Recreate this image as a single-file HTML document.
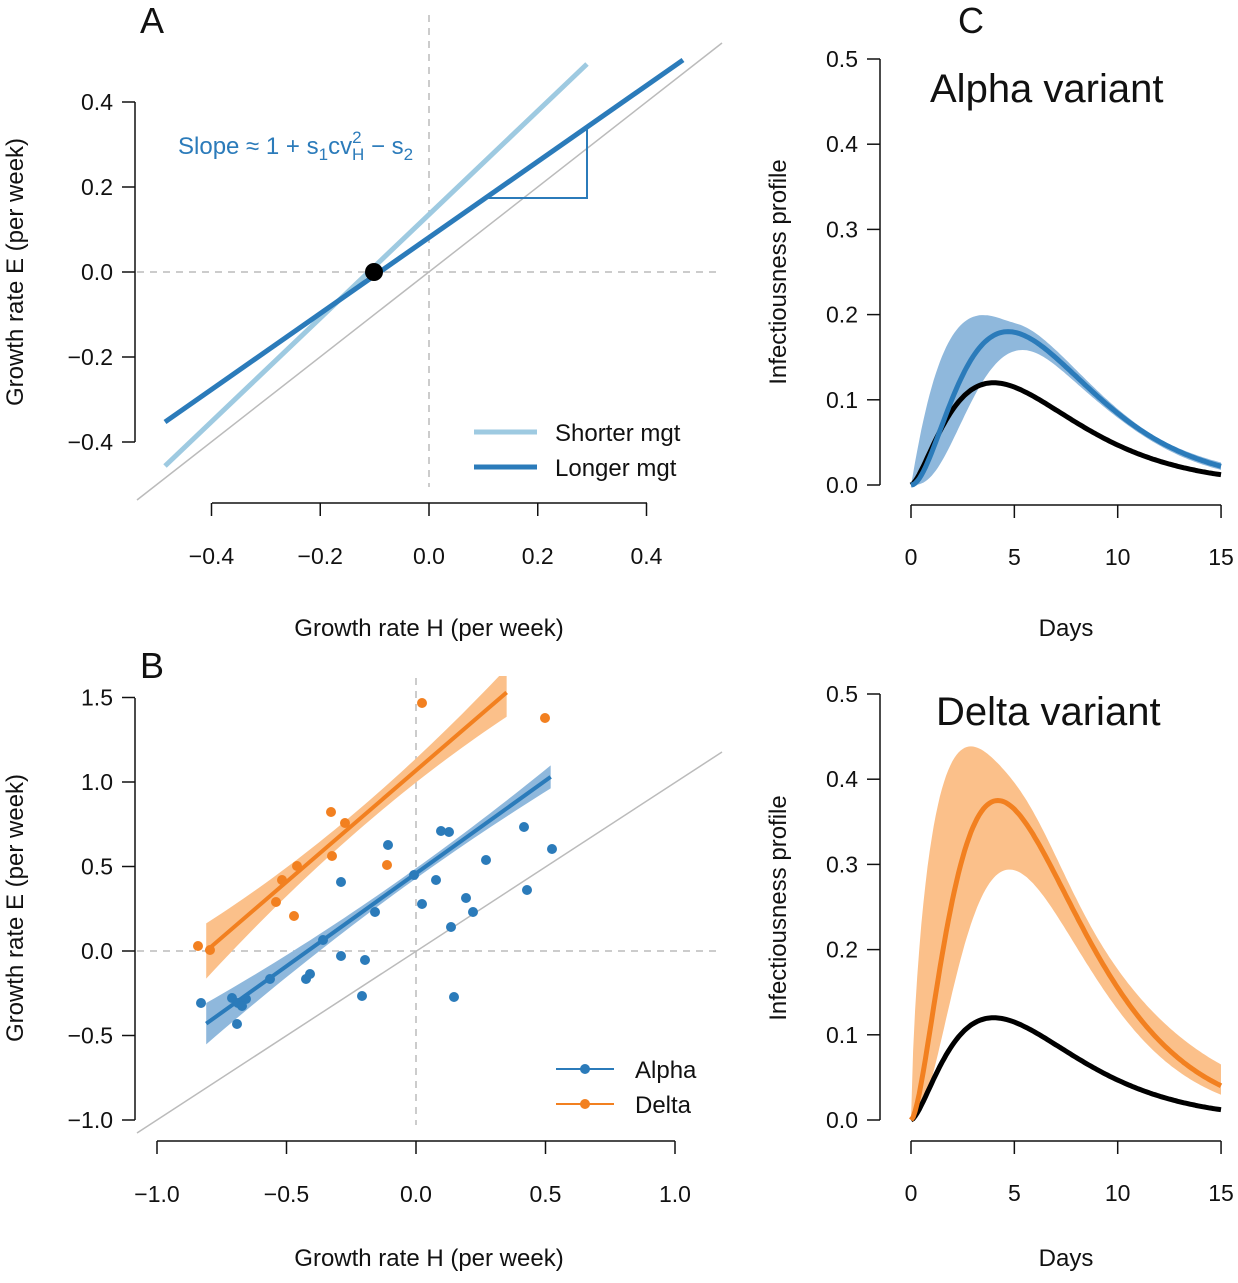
<!DOCTYPE html>
<html><head><meta charset="utf-8"><style>
html,body{margin:0;padding:0;background:#fff}
svg text{font-family:"Liberation Sans",Arial,sans-serif;fill:#111}
</style></head><body>
<svg id="s" width="1238" height="1278" viewBox="0 0 1238 1278" xmlns="http://www.w3.org/2000/svg">
<g id="g"></g>
<text x="140" y="33" font-size="36">A</text>
<text x="140" y="678" font-size="36">B</text>
<text x="958" y="33" font-size="36">C</text>
<text x="178" y="154" font-size="24" style="fill:#2b7bba">Slope ≈ 1 + s<tspan font-size="17" dy="6">1</tspan><tspan dy="-6">cv</tspan><tspan font-size="17" dy="-11">2</tspan><tspan font-size="17" dx="-9.5" dy="17">H</tspan><tspan dy="-6"> − s</tspan><tspan font-size="17" dy="6">2</tspan></text>
<text x="930" y="102" font-size="40">Alpha variant</text>
<text x="936" y="725" font-size="40">Delta variant</text>
<text x="429" y="636" font-size="24" text-anchor="middle">Growth rate H (per week)</text>
<text x="429" y="1266" font-size="24" text-anchor="middle">Growth rate H (per week)</text>
<text x="1066" y="636" font-size="24" text-anchor="middle">Days</text>
<text x="1066" y="1266" font-size="24" text-anchor="middle">Days</text>
<text transform="translate(23,272) rotate(-90)" font-size="24" text-anchor="middle">Growth rate E (per week)</text>
<text transform="translate(23,908) rotate(-90)" font-size="24" text-anchor="middle">Growth rate E (per week)</text>
<text transform="translate(786,272) rotate(-90)" font-size="24" text-anchor="middle">Infectiousness profile</text>
<text transform="translate(786,908) rotate(-90)" font-size="24" text-anchor="middle">Infectiousness profile</text>
<line x1="474" y1="432" x2="537" y2="432" stroke="#9ecae1" stroke-width="5"/>
<line x1="474" y1="467" x2="537" y2="467" stroke="#2b7bba" stroke-width="5"/>
<text x="555" y="441" font-size="24">Shorter mgt</text>
<text x="555" y="476" font-size="24">Longer mgt</text>
<line x1="556" y1="1069" x2="614" y2="1069" stroke="#2b7bba" stroke-width="2"/>
<circle cx="585" cy="1069" r="5" fill="#2b7bba"/>
<line x1="556" y1="1104" x2="614" y2="1104" stroke="#f28020" stroke-width="2"/>
<circle cx="585" cy="1104" r="5" fill="#f28020"/>
<text x="635" y="1078" font-size="24">Alpha</text>
<text x="635" y="1113" font-size="24">Delta</text>
</svg>
<script>
var g=document.getElementById('g'),NS='http://www.w3.org/2000/svg';
function el(t,a){var e=document.createElementNS(NS,t);for(var k in a)e.setAttribute(k,a[k]);g.appendChild(e);return e;}
function tx(x,y,s,anchor){var e=el('text',{x:x,y:y,'font-size':23,'text-anchor':anchor||'middle'});e.textContent=s;}
function L(x1,y1,x2,y2,c,w,d){var a={x1:x1,y1:y1,x2:x2,y2:y2,stroke:c,'stroke-width':w};if(d)a['stroke-dasharray']=d;el('line',a);}
var ax=function(v){return 429+v*543.75},ay=function(v){return 272-v*425};
L(429,15,429,487,'#bbb',1.5,'7,6');L(137,272,722,272,'#bbb',1.5,'7,6');
L(137,500,722,43,'#bbb',1.5);
L(165,466,587,64,'#9ecae1',5);L(165,422,683,60,'#2b7bba',5);
el('polyline',{points:'483,198 587,198 587,127',fill:'none',stroke:'#2b7bba','stroke-width':2});
el('circle',{cx:374,cy:272,r:9,fill:'#000'});
L(135,102,135,442,'#111',1.5);L(212,503,647,503,'#111',1.5);
[0.4,0.2,0,-0.2,-0.4].forEach(function(v){var y=ay(v);L(122,y,135,y,'#111',1.5);tx(113,y+8,(v<0?'−':'')+Math.abs(v).toFixed(1),'end');});
[-0.4,-0.2,0,0.2,0.4].forEach(function(v){var x=ax(v);L(x,503,x,516,'#111',1.5);tx(x,564,(v<0?'−':'')+Math.abs(v).toFixed(1));});
var bx=function(v){return 416+v*259},by=function(v){return 951-v*169};
L(416,665,416,1125,'#bbb',1.5,'7,6');L(137,951,722,951,'#bbb',1.5,'7,6');
L(137,1133,722,752,'#bbb',1.5);
function band(x0,x1,f,w,col){var up=[],dn=[];for(var i=0;i<=40;i++){var x=x0+(x1-x0)*i/40,m=f(x),ww=w(x);up.push(bx(x)+','+by(m+ww));dn.unshift(bx(x)+','+by(m-ww));}el('polygon',{points:up.concat(dn).join(' '),fill:col});}
var fb=function(x){return -0.43+(x+0.81)*(1.46/1.33)};
var fo=function(x){return 0+(x+0.81)*(1.53/1.16)};
band(-0.81,0.35,fo,function(x){var t=(x+0.2)/0.6;return 0.06+0.1*t*t;},'#fbc08a');
band(-0.81,0.52,fb,function(x){var t=(x-0.0)/0.8;return 0.03+0.09*t*t;},'#8fb8dc');
el('rect',{x:137,y:640,width:450,height:36,fill:'#fff'});
L(bx(-0.81),by(fo(-0.81)),bx(0.35),by(fo(0.35)),'#f28020',4);
L(bx(-0.81),by(fb(-0.81)),bx(0.52),by(fb(0.52)),'#2b7bba',4);
var blue=[[201,1003],[232,998],[238,1003],[237,1024],[246,999],[242,1006],[270,979],[306,979],[310,974],[323,940],[341,882],[341,956],[365,960],[362,996],[375,912],[388,845],[414,875],[422,904],[436,880],[441,831],[449,832],[451,927],[466,898],[473,912],[486,860],[524,827],[527,890],[552,849],[454,997]];
var orn=[[198,946],[210,950],[276,902],[282,880],[294,916],[297,866],[331,812],[332,856],[345,823],[387,865],[422,703],[545,718]];
blue.forEach(function(p){el('circle',{cx:p[0],cy:p[1],r:5,fill:'#2b7bba'});});
orn.forEach(function(p){el('circle',{cx:p[0],cy:p[1],r:5,fill:'#f28020'});});
L(135,698,135,1120,'#111',1.5);L(157,1141,675,1141,'#111',1.5);
[1.5,1,0.5,0,-0.5,-1].forEach(function(v){var y=by(v);L(122,y,135,y,'#111',1.5);tx(113,y+8,(v<0?'−':'')+Math.abs(v).toFixed(1),'end');});
[-1,-0.5,0,0.5,1].forEach(function(v){var x=bx(v);L(x,1141,x,1154,'#111',1.5);tx(x,1202,(v<0?'−':'')+Math.abs(v).toFixed(1));});
function C(y0){
 var cx=function(t){return 911+t*20.67},cy=function(v){return y0-v*852};
 function f(m,p,a){return function(t){return t<=0?0:p*Math.pow(t/m,a)*Math.exp(a*(1-t/m));};}
 function path(fn){var s=[];for(var i=0;i<=150;i++){var t=i/10;s.push(cx(t).toFixed(1)+','+cy(fn(t)).toFixed(1));}return s;}
 return {f:f,
  band:function(m,u,l,ru,rl,col){
   var U=function(t){var d=Math.max(u(t)-m(t),0),r=ru*m(t);return m(t)+Math.sqrt(d*d+r*r);};
   var D=function(t){var d=Math.max(m(t)-l(t),0),r=rl*m(t);return Math.max(0,m(t)-Math.sqrt(d*d+r*r));};
   el('polygon',{points:path(U).concat(path(D).reverse()).join(' '),fill:col});},
  line:function(fn,col){el('polyline',{points:path(fn).join(' '),fill:'none',stroke:col,'stroke-width':5});},
  axes:function(yaxis){L(880,cy(0.5),880,cy(0),'#111',1.5);L(cx(0),yaxis,cx(15),yaxis,'#111',1.5);
   [0.5,0.4,0.3,0.2,0.1,0].forEach(function(v){var y=cy(v);L(867,y,880,y,'#111',1.5);tx(858,y+8,v.toFixed(1),'end');});
   [0,5,10,15].forEach(function(v){var x=cx(v);L(x,yaxis,x,yaxis+13,'#111',1.5);tx(x,yaxis+60,String(v));});}};
}
var c1=C(485);
var m1=c1.f(4.7,0.18,2.04);
c1.band(m1,c1.f(3.4,0.198,1.05),c1.f(5.5,0.162,3.04),0.06,0.06,'#8fb8dc');
c1.line(c1.f(4,0.12,1.61),'#000');
c1.line(m1,'#2b7bba');
c1.axes(505);
var c2=C(1120);
var m2=c2.f(4.2,0.375,1.72);
c2.band(m2,c2.f(2.8,0.435,0.71),c2.f(4.8,0.30,2.33),0.08,0.08,'#fbc08a');
c2.line(c2.f(4,0.12,1.61),'#000');
c2.line(m2,'#f28020');
c2.axes(1141);
</script>
</body></html>
